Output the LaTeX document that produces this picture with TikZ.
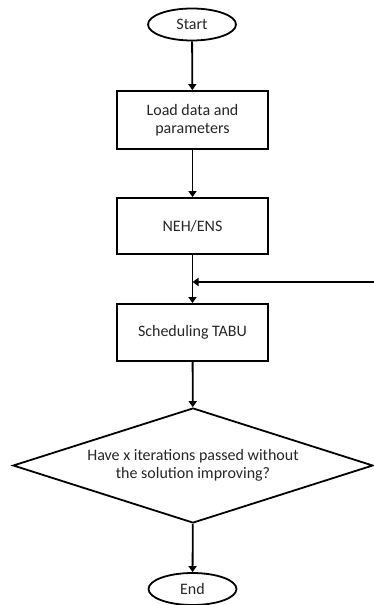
\documentclass[tikz,border=0pt]{standalone}
\usepackage{fontspec}
\setmainfont{Carlito}
\usetikzlibrary{shapes.geometric,arrows.meta}
\begin{document}
\begin{tikzpicture}[x=1pt,y=-1pt,
  base/.style={draw=black,line width=1.8pt,font=\fontsize{16}{18.5}\selectfont,text=black!85,align=center,inner sep=0pt},
  term/.style={base,ellipse,minimum width=88pt,minimum height=32pt},
  proc/.style={base,rectangle,minimum width=151pt},
  dec/.style={base,diamond,minimum width=360pt,minimum height=115pt,aspect=3.13},
  arr/.style={line width=1.8pt,-{Triangle[length=6pt,width=8pt]}}]
\useasboundingbox (0,0) rectangle (374,605);
\node[term] (start) at (192,24.5) {Start};
\node[proc,minimum height=58pt] (load) at (192.5,120) {Load data and\\parameters};
\node[proc,minimum height=56pt] (neh) at (192.5,226) {NEH/ENS};
\node[proc,minimum height=57pt] (tabu) at (192.5,332.5) {Scheduling TABU};
\node[dec] (dec) at (193,465.5) {Have x iterations passed without\\the solution improving?};
\node[term] (end) at (192.5,589) {End};
\coordinate (j) at (192.5,282);
\coordinate (r) at (374,282);
\draw[arr] (start) -- (load);
\draw[arr] (load) -- (neh);
\draw[arr] (neh) -- (tabu);
\draw[arr] (r) -- (j);
\draw[arr] (tabu) -- (dec);
\draw[arr] (dec) -- (end);
\end{tikzpicture}
\end{document}
